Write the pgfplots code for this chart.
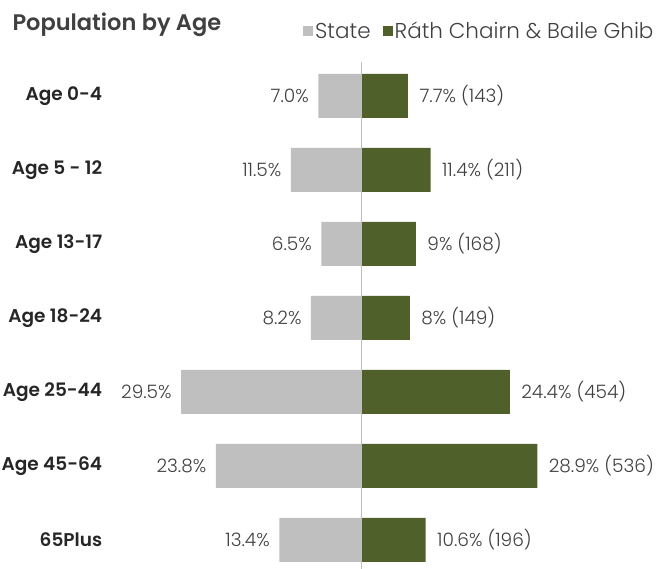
\documentclass[border=0pt]{standalone}
\usepackage{pgfplots}
\pgfplotsset{compat=1.18}
\usepackage{fontspec}
\setmainfont{Poppins}[UprightFont={* Light}, BoldFont={* SemiBold}]
\definecolor{stategray}{HTML}{BFBFBF}
\definecolor{locgreen}{HTML}{4F602B}
\definecolor{txt}{HTML}{404040}
\begin{document}
\begin{tikzpicture}
\begin{axis}[
  at={(0,0)}, anchor=south west,
  scale only axis, width=662pt, height=569pt,
  xmin=-59.18, xmax=49.34,
  ymin=-1.297, ymax=6.392, y dir=reverse,
  axis line style={draw=none}, tick style={draw=none},
  xtick=\empty,
  ytick={0,1,2,3,4,5,6},
  yticklabels={Age 0-4, Age 5 - 12, Age 13-17, Age 18-24, Age 25-44, Age 45-64, 65Plus},
  yticklabel style={anchor=east, xshift=110pt, font=\bfseries\fontsize{18.5}{21}\selectfont, text=black!85},
  xbar, bar width=44pt, bar shift=0pt,
  point meta=explicit symbolic,
  nodes near coords,
  title={Population by Age},
  title style={at={(axis description cs:0,1)}, anchor=north west, xshift=9pt, yshift=-15pt,
    font=\bfseries\fontsize{22.5}{26}\selectfont, text=txt},
  legend columns=2,
  legend image code/.code={\fill[#1] (0pt,-5pt) rectangle (10pt,5pt);},
  legend style={at={(axis description cs:0.995,0.968)}, anchor=north east, draw=none, fill=none,
    font=\fontsize{21.5}{24}\selectfont, text=txt, cells={anchor=west},
    /tikz/every even column/.append style={column sep=10pt}},
]
\addplot[fill=stategray, draw=none,
  every node near coord/.style={anchor=east, xshift=-6pt, font=\fontsize{18.5}{21}\selectfont, text=txt}]
  coordinates {(-7.0,0) [7.0\%] (-11.5,1) [11.5\%] (-6.5,2) [6.5\%] (-8.2,3) [8.2\%]
               (-29.5,4) [29.5\%] (-23.8,5) [23.8\%] (-13.4,6) [13.4\%]};
\addlegendentry{State}
\addplot[fill=locgreen, draw=none,
  every node near coord/.style={anchor=west, xshift=8pt, font=\fontsize{18.5}{21}\selectfont, text=txt}]
  coordinates {(7.7,0) [7.7\% (143)] (11.4,1) [11.4\% (211)] (9,2) [9\% (168)] (8,3) [8\% (149)]
               (24.4,4) [24.4\% (454)] (28.9,5) [28.9\% (536)] (10.6,6) [10.6\% (196)]};
\addlegendentry{Ráth Chairn \& Baile Ghib}
\draw[black!25, line width=0.8pt] (axis cs:0,-0.46) -- (axis cs:0,6.392);
\end{axis}
\pgfresetboundingbox
\path (0,0) rectangle (662pt,569pt);
\end{tikzpicture}
\end{document}
